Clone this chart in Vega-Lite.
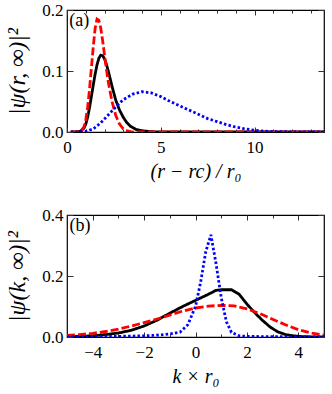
{
  "$schema": "https://vega.github.io/schema/vega-lite/v6.json",
  "padding": {"left": 5, "top": 0, "right": 5, "bottom": 5},
  "spacing": 23,
  "config": {
    "view": {"stroke": "#000", "strokeWidth": 1.2},
    "font": "Liberation Serif",
    "text": {"font": "Liberation Serif"},
    "axis": {"grid": false, "domain": false, "labelFont": "Liberation Serif", "labelFontSize": 17, "labelColor": "#000", "titleFont": "Liberation Serif", "titleFontSize": 20, "titleFontWeight": "normal", "titleColor": "#000", "tickColor": "#333", "labelFlush": false, "labelOverlap": false}
  },
  "datasets": {
    "a": [
      {"x": 0.2, "y": 0, "s": "black"}, {"x": 0.5, "y": 0, "s": "black"}, {"x": 0.7, "y": 0.001, "s": "black"}, {"x": 0.9, "y": 0.006, "s": "black"}, {"x": 1.0, "y": 0.013, "s": "black"}, {"x": 1.1, "y": 0.024, "s": "black"}, {"x": 1.2, "y": 0.04, "s": "black"}, {"x": 1.3, "y": 0.058, "s": "black"}, {"x": 1.4, "y": 0.077, "s": "black"}, {"x": 1.5, "y": 0.095, "s": "black"}, {"x": 1.6, "y": 0.11, "s": "black"}, {"x": 1.7, "y": 0.121, "s": "black"}, {"x": 1.8, "y": 0.126, "s": "black"}, {"x": 1.9, "y": 0.125, "s": "black"}, {"x": 2.0, "y": 0.12, "s": "black"}, {"x": 2.1, "y": 0.111, "s": "black"}, {"x": 2.2, "y": 0.1, "s": "black"}, {"x": 2.4, "y": 0.075, "s": "black"}, {"x": 2.6, "y": 0.052, "s": "black"}, {"x": 2.8, "y": 0.036, "s": "black"}, {"x": 3.0, "y": 0.024, "s": "black"}, {"x": 3.2, "y": 0.015, "s": "black"}, {"x": 3.4, "y": 0.009, "s": "black"}, {"x": 3.7, "y": 0.004, "s": "black"}, {"x": 4.0, "y": 0.002, "s": "black"}, {"x": 4.5, "y": 0.0005, "s": "black"}, {"x": 5, "y": 0, "s": "black"}, {"x": 8, "y": 0, "s": "black"}, {"x": 13.7, "y": 0, "s": "black"},
      {"x": 0.2, "y": 0, "s": "red"}, {"x": 0.7, "y": 0, "s": "red"}, {"x": 0.9, "y": 0.008, "s": "red"}, {"x": 1.0, "y": 0.02, "s": "red"}, {"x": 1.1, "y": 0.04, "s": "red"}, {"x": 1.2, "y": 0.07, "s": "red"}, {"x": 1.3, "y": 0.105, "s": "red"}, {"x": 1.4, "y": 0.14, "s": "red"}, {"x": 1.5, "y": 0.17, "s": "red"}, {"x": 1.6, "y": 0.185, "s": "red"}, {"x": 1.7, "y": 0.183, "s": "red"}, {"x": 1.8, "y": 0.17, "s": "red"}, {"x": 1.9, "y": 0.15, "s": "red"}, {"x": 2.0, "y": 0.126, "s": "red"}, {"x": 2.1, "y": 0.103, "s": "red"}, {"x": 2.2, "y": 0.082, "s": "red"}, {"x": 2.4, "y": 0.05, "s": "red"}, {"x": 2.6, "y": 0.027, "s": "red"}, {"x": 2.8, "y": 0.013, "s": "red"}, {"x": 3.0, "y": 0.005, "s": "red"}, {"x": 3.2, "y": 0.002, "s": "red"}, {"x": 3.5, "y": 0, "s": "red"}, {"x": 8, "y": 0, "s": "red"}, {"x": 13.7, "y": 0, "s": "red"},
      {"x": 0.2, "y": 0, "s": "blue"}, {"x": 0.8, "y": 0.0005, "s": "blue"}, {"x": 1.0, "y": 0.001, "s": "blue"}, {"x": 1.4, "y": 0.005, "s": "blue"}, {"x": 1.8, "y": 0.015, "s": "blue"}, {"x": 2.2, "y": 0.028, "s": "blue"}, {"x": 2.6, "y": 0.041, "s": "blue"}, {"x": 3.0, "y": 0.053, "s": "blue"}, {"x": 3.5, "y": 0.062, "s": "blue"}, {"x": 4.0, "y": 0.066, "s": "blue"}, {"x": 4.5, "y": 0.064, "s": "blue"}, {"x": 5.0, "y": 0.058, "s": "blue"}, {"x": 5.5, "y": 0.05, "s": "blue"}, {"x": 6.0, "y": 0.043, "s": "blue"}, {"x": 6.5, "y": 0.036, "s": "blue"}, {"x": 7.0, "y": 0.029, "s": "blue"}, {"x": 7.5, "y": 0.022, "s": "blue"}, {"x": 8.0, "y": 0.017, "s": "blue"}, {"x": 8.5, "y": 0.012, "s": "blue"}, {"x": 9.0, "y": 0.008, "s": "blue"}, {"x": 9.5, "y": 0.005, "s": "blue"}, {"x": 10.0, "y": 0.003, "s": "blue"}, {"x": 10.5, "y": 0.0015, "s": "blue"}, {"x": 11.0, "y": 0.0007, "s": "blue"}, {"x": 12.0, "y": 0.0002, "s": "blue"}, {"x": 13.7, "y": 0, "s": "blue"}
    ],
    "b": [
      {"x": -5, "y": 0.001, "s": "black"}, {"x": -4.5, "y": 0.002, "s": "black"}, {"x": -4, "y": 0.004, "s": "black"}, {"x": -3.5, "y": 0.008, "s": "black"}, {"x": -3, "y": 0.013, "s": "black"}, {"x": -2.5, "y": 0.022, "s": "black"}, {"x": -2, "y": 0.036, "s": "black"}, {"x": -1.5, "y": 0.055, "s": "black"}, {"x": -1, "y": 0.078, "s": "black"}, {"x": -0.5, "y": 0.1, "s": "black"}, {"x": 0, "y": 0.12, "s": "black"}, {"x": 0.5, "y": 0.14, "s": "black"}, {"x": 0.8, "y": 0.153, "s": "black"}, {"x": 1.0, "y": 0.155, "s": "black"}, {"x": 1.4, "y": 0.155, "s": "black"}, {"x": 1.7, "y": 0.14, "s": "black"}, {"x": 2.0, "y": 0.108, "s": "black"}, {"x": 2.3, "y": 0.08, "s": "black"}, {"x": 2.6, "y": 0.055, "s": "black"}, {"x": 2.9, "y": 0.033, "s": "black"}, {"x": 3.2, "y": 0.017, "s": "black"}, {"x": 3.5, "y": 0.008, "s": "black"}, {"x": 3.8, "y": 0.004, "s": "black"}, {"x": 4.2, "y": 0.001, "s": "black"}, {"x": 5, "y": 0, "s": "black"},
      {"x": -5, "y": 0.005, "s": "red"}, {"x": -4.5, "y": 0.008, "s": "red"}, {"x": -4, "y": 0.012, "s": "red"}, {"x": -3.5, "y": 0.018, "s": "red"}, {"x": -3, "y": 0.026, "s": "red"}, {"x": -2.5, "y": 0.036, "s": "red"}, {"x": -2, "y": 0.047, "s": "red"}, {"x": -1.5, "y": 0.059, "s": "red"}, {"x": -1, "y": 0.072, "s": "red"}, {"x": -0.5, "y": 0.085, "s": "red"}, {"x": 0, "y": 0.095, "s": "red"}, {"x": 0.5, "y": 0.101, "s": "red"}, {"x": 1.0, "y": 0.104, "s": "red"}, {"x": 1.5, "y": 0.102, "s": "red"}, {"x": 2.0, "y": 0.092, "s": "red"}, {"x": 2.5, "y": 0.077, "s": "red"}, {"x": 3.0, "y": 0.058, "s": "red"}, {"x": 3.5, "y": 0.04, "s": "red"}, {"x": 4.0, "y": 0.024, "s": "red"}, {"x": 4.5, "y": 0.013, "s": "red"}, {"x": 5, "y": 0.006, "s": "red"},
      {"x": -5, "y": 0.0005, "s": "blue"}, {"x": -4, "y": 0.001, "s": "blue"}, {"x": -3, "y": 0.002, "s": "blue"}, {"x": -2, "y": 0.004, "s": "blue"}, {"x": -1.5, "y": 0.006, "s": "blue"}, {"x": -1, "y": 0.01, "s": "blue"}, {"x": -0.6, "y": 0.016, "s": "blue"}, {"x": -0.3, "y": 0.04, "s": "blue"}, {"x": 0, "y": 0.1, "s": "blue"}, {"x": 0.2, "y": 0.18, "s": "blue"}, {"x": 0.4, "y": 0.28, "s": "blue"}, {"x": 0.6, "y": 0.335, "s": "blue"}, {"x": 0.8, "y": 0.24, "s": "blue"}, {"x": 1.0, "y": 0.13, "s": "blue"}, {"x": 1.2, "y": 0.05, "s": "blue"}, {"x": 1.4, "y": 0.015, "s": "blue"}, {"x": 1.7, "y": 0.004, "s": "blue"}, {"x": 2, "y": 0.002, "s": "blue"}, {"x": 3, "y": 0.001, "s": "blue"}, {"x": 5, "y": 0, "s": "blue"}
    ],
    "la": [{"x": 0.12, "y": 0.2, "t": "(a)"}],
    "lb": [{"x": -4.9, "y": 0.4, "t": "(b)"}]
  },
  "vconcat": [
    {
      "width": 257, "height": 122,
      "resolve": {"axis": {"x": "independent", "y": "independent"}},
      "layer": [
        {
          "data": {"name": "a"},
          "mark": {"type": "line", "strokeWidth": 2.8, "strokeCap": "butt", "clip": true},
          "encoding": {
            "x": {"field": "x", "type": "quantitative", "scale": {"domain": [0, 13.7], "nice": false, "zero": false}, "axis": {"orient": "bottom", "values": [0, 5, 10], "tickSize": -5, "labelPadding": 12, "title": "(r − rc) / r₀", "titleFontStyle": "italic", "titlePadding": 6}},
            "y": {"field": "y", "type": "quantitative", "scale": {"domain": [0, 0.2], "nice": false}, "axis": {"orient": "left", "values": [0, 0.1, 0.2], "format": ".1f", "tickSize": -6, "labelPadding": 10, "title": "|ψ(r, ∞)|²", "titleFontStyle": "italic", "titleFontSize": 24, "titlePadding": 12}},
            "color": {"field": "s", "type": "nominal", "scale": {"domain": ["black", "red", "blue"], "range": ["#000000", "#ff0000", "#0000ff"]}, "legend": null},
            "strokeDash": {"field": "s", "type": "nominal", "scale": {"domain": ["black", "red", "blue"], "range": [[1, 0], [8, 3], [2.5, 2.2]]}, "legend": null}
          }
        },
        {
          "data": {"name": "a"},
          "mark": {"type": "point", "opacity": 0},
          "encoding": {
            "x": {"field": "x", "type": "quantitative", "axis": {"orient": "top", "values": [0, 5, 10], "tickSize": -5, "labels": false, "title": null}},
            "y": {"field": "y", "type": "quantitative", "axis": {"orient": "right", "values": [0, 0.1, 0.2], "tickSize": -6, "labels": false, "title": null}}
          }
        },
        {
          "data": {"name": "a"},
          "mark": {"type": "point", "opacity": 0},
          "encoding": {
            "x": {"field": "x", "type": "quantitative", "axis": {"orient": "bottom", "values": [1, 2, 3, 4, 6, 7, 8, 9, 11, 12, 13], "tickSize": -3, "labels": false, "title": null}},
            "y": {"field": "y", "type": "quantitative", "axis": null}
          }
        },
        {
          "data": {"name": "a"},
          "mark": {"type": "point", "opacity": 0},
          "encoding": {
            "x": {"field": "x", "type": "quantitative", "axis": {"orient": "top", "values": [1, 2, 3, 4, 6, 7, 8, 9, 11, 12, 13], "tickSize": -3, "labels": false, "title": null}},
            "y": {"field": "y", "type": "quantitative", "axis": null}
          }
        },
        {
          "data": {"name": "la"},
          "mark": {"type": "text", "align": "left", "baseline": "top", "fontSize": 18, "dy": 2},
          "encoding": {
            "x": {"field": "x", "type": "quantitative", "axis": null},
            "y": {"field": "y", "type": "quantitative", "axis": null},
            "text": {"field": "t"}
          }
        }
      ]
    },
    {
      "width": 257, "height": 122,
      "resolve": {"axis": {"x": "independent", "y": "independent"}},
      "layer": [
        {
          "data": {"name": "b"},
          "mark": {"type": "line", "strokeWidth": 2.8, "strokeCap": "butt", "clip": true},
          "encoding": {
            "x": {"field": "x", "type": "quantitative", "scale": {"domain": [-5, 5], "nice": false, "zero": false}, "axis": {"orient": "bottom", "values": [-4, -2, 0, 2, 4], "tickSize": -5, "labelPadding": 12, "title": "k × r₀", "titleFontStyle": "italic", "titlePadding": 6}},
            "y": {"field": "y", "type": "quantitative", "scale": {"domain": [0, 0.4], "nice": false}, "axis": {"orient": "left", "values": [0, 0.2, 0.4], "format": ".1f", "tickSize": -6, "labelPadding": 10, "title": "|ψ(k, ∞)|²", "titleFontStyle": "italic", "titleFontSize": 24, "titlePadding": 12}},
            "color": {"field": "s", "type": "nominal", "scale": {"domain": ["black", "red", "blue"], "range": ["#000000", "#ff0000", "#0000ff"]}, "legend": null},
            "strokeDash": {"field": "s", "type": "nominal", "scale": {"domain": ["black", "red", "blue"], "range": [[1, 0], [8, 3], [2.5, 2.2]]}, "legend": null}
          }
        },
        {
          "data": {"name": "b"},
          "mark": {"type": "point", "opacity": 0},
          "encoding": {
            "x": {"field": "x", "type": "quantitative", "axis": {"orient": "top", "values": [-4, -2, 0, 2, 4], "tickSize": -5, "labels": false, "title": null}},
            "y": {"field": "y", "type": "quantitative", "axis": {"orient": "right", "values": [0, 0.2, 0.4], "tickSize": -6, "labels": false, "title": null}}
          }
        },
        {
          "data": {"name": "b"},
          "mark": {"type": "point", "opacity": 0},
          "encoding": {
            "x": {"field": "x", "type": "quantitative", "axis": {"orient": "bottom", "values": [-3, -1, 1, 3], "tickSize": -3, "labels": false, "title": null}},
            "y": {"field": "y", "type": "quantitative", "axis": null}
          }
        },
        {
          "data": {"name": "b"},
          "mark": {"type": "point", "opacity": 0},
          "encoding": {
            "x": {"field": "x", "type": "quantitative", "axis": {"orient": "top", "values": [-3, -1, 1, 3], "tickSize": -3, "labels": false, "title": null}},
            "y": {"field": "y", "type": "quantitative", "axis": null}
          }
        },
        {
          "data": {"name": "lb"},
          "mark": {"type": "text", "align": "left", "baseline": "top", "fontSize": 18, "dy": 2},
          "encoding": {
            "x": {"field": "x", "type": "quantitative", "axis": null},
            "y": {"field": "y", "type": "quantitative", "axis": null},
            "text": {"field": "t"}
          }
        }
      ]
    }
  ]
}
